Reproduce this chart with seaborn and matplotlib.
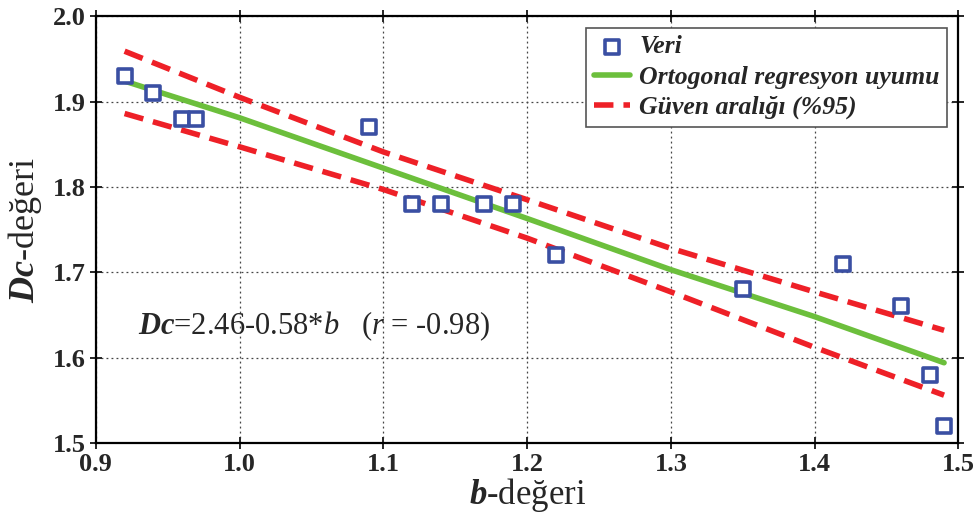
import matplotlib
matplotlib.use("Agg")
import matplotlib.pyplot as plt
import seaborn as sns
import pandas as pd

# Data
b_vals = [0.92, 0.94, 0.96, 0.97, 1.09, 1.12, 1.14, 1.17, 1.19, 1.22, 1.35, 1.42, 1.46, 1.48, 1.49]
dc_vals = [1.93, 1.91, 1.88, 1.88, 1.87, 1.78, 1.78, 1.78, 1.78, 1.72, 1.68, 1.71, 1.66, 1.58, 1.52]

fit_x = [0.92, 1.0, 1.1, 1.2, 1.3, 1.4, 1.49]
fit_y = [1.924, 1.881, 1.822, 1.763, 1.703, 1.648, 1.594]
upper_y = [1.959, 1.905, 1.841, 1.785, 1.728, 1.677, 1.632]
lower_y = [1.886, 1.847, 1.797, 1.740, 1.677, 1.612, 1.556]

x_ticks = [0.9, 1.0, 1.1, 1.2, 1.3, 1.4, 1.5]
y_ticks = [1.5, 1.6, 1.7, 1.8, 1.9, 2.0]

sns.set_style("ticks")
plt.rcParams['font.family'] = ['Liberation Serif', 'DejaVu Serif']
plt.rcParams['mathtext.fontset'] = 'custom'
plt.rcParams['mathtext.rm'] = 'Liberation Serif'
plt.rcParams['mathtext.it'] = 'Liberation Serif:italic'
plt.rcParams['mathtext.bf'] = 'Liberation Serif:bold'
plt.rcParams['mathtext.bfit'] = 'Liberation Serif:bold:italic'

fig = plt.figure(figsize=(9.78, 5.23), dpi=100)
ax = fig.add_axes([0.098, 0.153, 0.882, 0.816])

df = pd.DataFrame({'b': b_vals, 'Dc': dc_vals})
band = pd.DataFrame({'x': fit_x, 'fit': fit_y, 'up': upper_y, 'lo': lower_y})

blue = '#3a4fa3'
green = '#6cbf3c'
red = '#ee2027'

sns.scatterplot(data=df, x='b', y='Dc', ax=ax, marker='s', s=110,
                facecolor='white', edgecolor=blue, linewidth=2.6, zorder=5,
                label='Veri')
sns.lineplot(data=band, x='x', y='fit', ax=ax, color=green, linewidth=4,
             label='Ortogonal regresyon uyumu', zorder=4)
sns.lineplot(data=band, x='x', y='up', ax=ax, color=red, linewidth=4,
             label='Güven aralığı (%95)', zorder=3)
sns.lineplot(data=band, x='x', y='lo', ax=ax, color=red, linewidth=4,
             label='_nolegend_', zorder=3)
for ln in ax.get_lines():
    c = matplotlib.colors.to_hex(ln.get_color())
    if c == red:
        ln.set_dashes([3.5, 1.8])

ax.set_xlim(0.9, 1.5)
ax.set_ylim(1.5, 2.0)
ax.set_xticks(x_ticks)
ax.set_yticks(y_ticks)
ax.set_xticklabels([f"{t:.1f}" for t in x_ticks], fontsize=19, fontweight='bold')
ax.set_yticklabels([f"{t:.1f}" for t in y_ticks], fontsize=19, fontweight='bold')
ax.grid(True, linestyle=(0, (1.5, 2.5)), color='#444444', linewidth=0.9)
for s in ax.spines.values():
    s.set_visible(True)
    s.set_linewidth(1.6)
    s.set_color('black')
ax.tick_params(axis='both', which='major', direction='inout', length=9, width=1.4,
               top=True, right=True, pad=3)

ax.set_xlabel(r'$\mathbfit{b}$-değeri', fontsize=25, labelpad=0)
ax.set_ylabel(r'$\mathbfit{Dc}$-değeri', fontsize=26, labelpad=6)

ax.text(0.929, 1.637, r'$\mathbfit{Dc}$=2.46-0.58*$\mathit{b}$   ($\mathit{r}$ = -0.98)',
        fontsize=22, ha='left', va='center')

leg = ax.legend(loc='upper right', bbox_to_anchor=(0.993, 0.985),
                prop={'family': 'Liberation Serif', 'weight': 'bold', 'style': 'italic', 'size': 18.5},
                frameon=True, fancybox=False, edgecolor='#555555', framealpha=1,
                handlelength=1.4, borderpad=0.3, labelspacing=0.28, handletextpad=0.35,
                borderaxespad=0.2)
leg.get_frame().set_linewidth(1.2)

fig.savefig('out.png', dpi=100)
